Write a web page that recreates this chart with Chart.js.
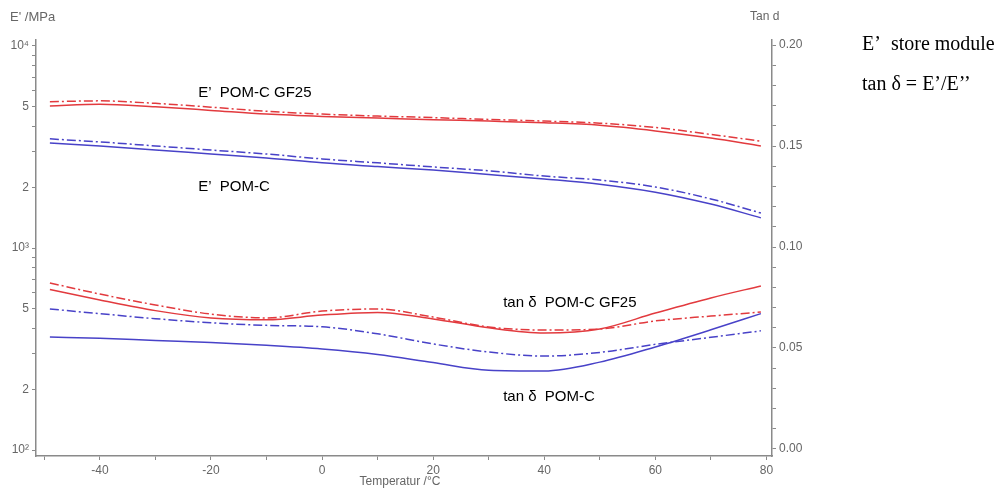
<!DOCTYPE html>
<html><head><meta charset="utf-8">
<script src="https://cdn.jsdelivr.net/npm/chart.js@4"></script>
<style>html,body{margin:0;padding:0;background:#fff}</style>
</head><body>
<canvas id="c" width="1008" height="492"></canvas>
<script>
// ---- data ----
const temps = [-49, -40, -30, -20, -10, 0, 10, 20, 30, 40, 50, 60, 70, 79];

// storage modulus E' (MPa), left log axis
const ePomcGf25      = [5050, 5150, 5000, 4800, 4600, 4480, 4400, 4320, 4250, 4170, 4050, 3800, 3500, 3200];
const ePomcGf25Dash  = [5300, 5350, 5200, 4980, 4750, 4600, 4500, 4420, 4330, 4250, 4150, 3950, 3650, 3380];
const ePomc          = [3310, 3200, 3055, 2920, 2790, 2640, 2530, 2430, 2310, 2195, 2070, 1890, 1650, 1410];
const ePomcDash      = [3470, 3350, 3200, 3055, 2920, 2760, 2640, 2520, 2410, 2270, 2170, 2005, 1750, 1490];

// tan delta, right linear axis
const tanPomcGf25     = [0.0790, 0.0738, 0.0685, 0.0649, 0.0640, 0.0663, 0.0676, 0.0644, 0.0600, 0.0574, 0.0594, 0.0673, 0.0748, 0.0807];
const tanPomcGf25Dash = [0.0822, 0.0767, 0.0713, 0.0668, 0.0649, 0.0683, 0.0693, 0.0653, 0.0604, 0.0589, 0.0594, 0.0634, 0.0658, 0.0678];
const tanPomc         = [0.0554, 0.0548, 0.0537, 0.0527, 0.0513, 0.0495, 0.0468, 0.0428, 0.0390, 0.0386, 0.0430, 0.0505, 0.0590, 0.0670];
const tanPomcDash     = [0.0693, 0.0670, 0.0645, 0.0625, 0.0612, 0.0605, 0.0570, 0.0520, 0.0480, 0.0460, 0.0478, 0.0518, 0.0553, 0.0585];

// ticks
const xTickValues  = [-50, -40, -30, -20, -10, 0, 10, 20, 30, 40, 50, 60, 70, 80];
const xTickLabels  = {"-40": "-40", "-20": "-20", "0": "0", "20": "20", "40": "40", "60": "60", "80": "80"};
const yTickValues  = [100, 200, 300, 400, 500, 600, 700, 800, 900, 1000, 2000, 3000, 4000, 5000, 6000, 7000, 8000, 9000, 10000];
const yTickLabels  = {"100": "10²", "200": "2", "500": "5", "1000": "10³", "2000": "2", "5000": "5", "10000": "10⁴"};
const y2TickValues = [0, 0.01, 0.02, 0.03, 0.04, 0.05, 0.06, 0.07, 0.08, 0.09, 0.10, 0.11, 0.12, 0.13, 0.14, 0.15, 0.16, 0.17, 0.18, 0.19, 0.20];
const y2TickLabels = {"0": "0.00", "0.05": "0.05", "0.1": "0.10", "0.15": "0.15", "0.2": "0.20"};

const axisTitleLeft = "E' /MPa";
const axisTitleRight = "Tan d";
const axisTitleX = "Temperatur /°C";
const curveLabels = [
  {text: "E’  POM-C GF25", t: -22.3, e: 5850},
  {text: "E’  POM-C", t: -22.3, e: 2000},
  {text: "tan δ  POM-C GF25", t: 32.6, d: 0.0724},
  {text: "tan δ  POM-C", t: 32.6, d: 0.0259}
];
const noteLines = ["E’  store module", "tan δ = E’/E’’"];

const RED = 'rgb(226,58,62)';
const BLUE = 'rgb(72,66,200)';
const DASH = [9, 3, 2, 3];

function pts(arr) { return temps.map((t, i) => ({x: t, y: arr[i]})); }
function ds(label, arr, color, dashed, axis) {
  return {
    label, data: pts(arr), borderColor: color, backgroundColor: color,
    borderWidth: 1.5, borderDash: dashed ? DASH : [], pointRadius: 0,
    cubicInterpolationMode: 'monotone', yAxisID: axis, fill: false
  };
}

const AXIS = '#8a8a8a';
const TXT = '#666';
const tickFont = {family: 'Arial, "Liberation Sans", sans-serif', size: 12};

const textPlugin = {
  id: 'texts',
  afterDraw(chart) {
    const ctx = chart.ctx;
    const xs = chart.scales.x, ys = chart.scales.y, y2 = chart.scales.y2;
    ctx.save();
    ctx.fillStyle = TXT;
    ctx.font = '13px Arial, "Liberation Sans", sans-serif';
    ctx.textBaseline = 'middle';
    ctx.textAlign = 'left';
    ctx.fillText(axisTitleLeft, 10, 17);
    ctx.font = '12px Arial, "Liberation Sans", sans-serif';
    ctx.fillText(axisTitleRight, 750, 17);
    ctx.textAlign = 'center';
    ctx.fillText(axisTitleX, 400, 482);

    ctx.fillStyle = '#000';
    ctx.font = '15px Arial, "Liberation Sans", sans-serif';
    ctx.textAlign = 'left';
    curveLabels.forEach(l => {
      const px = xs.getPixelForValue(l.t);
      const py = l.e !== undefined ? ys.getPixelForValue(l.e) : y2.getPixelForValue(l.d);
      ctx.fillText(l.text, px, py);
    });

    ctx.font = '20px "Liberation Serif", "Times New Roman", serif';
    ctx.fillText(noteLines[0], 862, 45);
    ctx.fillText(noteLines[1], 862, 85);
    ctx.restore();
  }
};

new Chart(document.getElementById('c'), {
  type: 'line',
  data: {
    datasets: [
      ds("E' POM-C GF25", ePomcGf25, RED, false, 'y'),
      ds("E' POM-C GF25 (2)", ePomcGf25Dash, RED, true, 'y'),
      ds("E' POM-C", ePomc, BLUE, false, 'y'),
      ds("E' POM-C (2)", ePomcDash, BLUE, true, 'y'),
      ds("tan δ POM-C GF25", tanPomcGf25, RED, false, 'y2'),
      ds("tan δ POM-C GF25 (2)", tanPomcGf25Dash, RED, true, 'y2'),
      ds("tan δ POM-C", tanPomc, BLUE, false, 'y2'),
      ds("tan δ POM-C (2)", tanPomcDash, BLUE, true, 'y2')
    ]
  },
  options: {
    responsive: false,
    animation: false,
    layout: {padding: {top: 40, right: 176, bottom: 0, left: 0}},
    plugins: {legend: {display: false}, tooltip: {enabled: false}, title: {display: false}},
    scales: {
      x: {
        type: 'linear', position: 'bottom', min: -51.5, max: 81,
        afterBuildTicks: s => { s.ticks = xTickValues.map(v => ({value: v})); },
        afterFit: s => { s.height = 36; },
        ticks: {font: tickFont, color: TXT, padding: 3, maxRotation: 0, autoSkip: false,
          callback: v => xTickLabels[String(v)] || ''},
        grid: {drawOnChartArea: false, drawTicks: true, tickLength: 4, color: AXIS},
        border: {color: AXIS, width: 1.5}
      },
      y: {
        type: 'logarithmic', position: 'left', min: 93.4, max: 10707,
        afterBuildTicks: s => { s.ticks = yTickValues.map(v => ({value: v})); },
        afterFit: s => { s.width = 36; },
        ticks: {font: tickFont, color: TXT, padding: 3, autoSkip: false,
          callback: v => yTickLabels[String(v)] || ''},
        grid: {drawOnChartArea: false, drawTicks: true, tickLength: 4, color: AXIS},
        border: {color: AXIS, width: 1.5}
      },
      y2: {
        type: 'linear', position: 'right', min: -0.00347, max: 0.20248,
        afterBuildTicks: s => { s.ticks = y2TickValues.map(v => ({value: v})); },
        afterFit: s => { s.width = 60; },
        ticks: {font: tickFont, color: TXT, padding: 3, autoSkip: false,
          callback: v => y2TickLabels[String(Math.round(v * 100) / 100)] || ''},
        grid: {drawOnChartArea: false, drawTicks: true, tickLength: 4, color: AXIS},
        border: {color: AXIS, width: 1.5}
      }
    }
  },
  plugins: [textPlugin]
});
</script>
</body></html>
